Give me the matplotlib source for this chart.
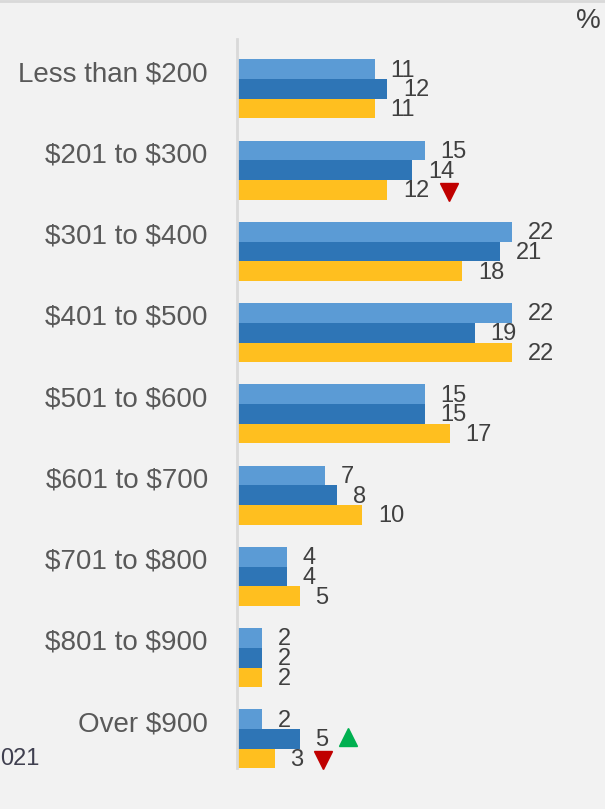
import numpy as np
import matplotlib
matplotlib.use('Agg')
import matplotlib.pyplot as plt
from matplotlib.transforms import offset_copy

plt.rcParams['font.family'] = ['Liberation Sans', 'DejaVu Sans']
plt.rcParams['text.parse_math'] = False

categories = ["Less than $200", "$201 to $300", "$301 to $400", "$401 to $500",
              "$501 to $600", "$601 to $700", "$701 to $800", "$801 to $900",
              "Over $900"]
series_a = [11, 15, 22, 22, 15, 7, 4, 2, 2]   # light blue
series_b = [12, 14, 21, 19, 15, 8, 4, 2, 5]   # dark blue
series_c = [11, 12, 18, 22, 17, 10, 5, 2, 3]  # yellow
# significant changes: (category index, series index, direction)
changes = [(1, 2, 'down'), (8, 1, 'up'), (8, 2, 'down')]

colors = ['#5B9BD5', '#2E75B6', '#FFBF1F']
bg = '#F2F2F2'

fig = plt.figure(figsize=(6.05, 8.09), dpi=100, facecolor=bg)
ax = fig.add_axes([237 / 605, 41 / 809, 368 / 605, 729 / 809])
ax.set_facecolor(bg)

y = np.arange(len(categories))
h = 0.242
all_series = [series_a, series_b, series_c]
for k, vals in enumerate(all_series):
    pos = y + (k - 1) * h
    ax.barh(pos, vals, height=h, color=colors[k], edgecolor='none')
    for p, v in zip(pos, vals):
        ax.annotate(str(v), (v, p), xytext=(11.5, -1), textcoords='offset points',
                    ha='left', va='center', fontsize=17, color='#404040')

for i, k, d in changes:
    v = all_series[k][i]
    dx = 11.5 + 9.4 * len(str(v)) + 14
    tr = offset_copy(ax.transData, fig=fig, x=dx, y=0, units='points')
    ax.plot(v, y[i] + (k - 1) * h + (0.02 if d == 'down' else -0.02),
            marker='v' if d == 'down' else '^', markersize=13,
            color='#C00000' if d == 'down' else '#00B050', transform=tr,
            clip_on=False)

ax.set_xlim(0, 368 / 12.5)
ax.set_ylim(8.357, -0.615)
ax.set_xticks([])
# category labels sit a little above the group centre
ax.set_yticks(y - 0.22)
ax.set_yticklabels(categories, fontsize=20, color='#595959')
ax.tick_params(axis='y', length=0, pad=21)
for s in ['top', 'right', 'bottom']:
    ax.spines[s].set_visible(False)
ax.spines['left'].set_color('#D9D9D9')
ax.spines['left'].set_linewidth(2)

fig.text(588 / 605, 1 - 21 / 809, '%', fontsize=20, color='#404040',
         ha='center', va='center')
fig.text(0, 1 - 759 / 809, '021', fontsize=17, color='#404050',
         ha='left', va='center')
fig.add_artist(plt.Line2D([0, 1], [0.999, 0.999], color='#D9D9D9', lw=2,
                          transform=fig.transFigure))

fig.savefig('out.png', dpi=100, facecolor=bg)
